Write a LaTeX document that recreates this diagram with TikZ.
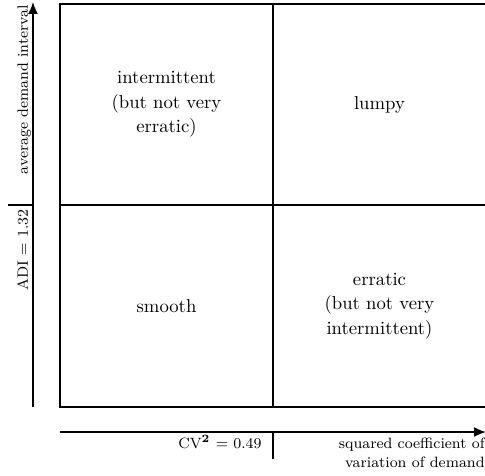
\documentclass[tikz,border=0pt]{standalone}
\usetikzlibrary{arrows.meta}
\begin{document}
\begin{tikzpicture}[x=0.535pt,y=-0.535pt,
  gridline/.style={line width=1pt},
  axis/.style={line width=1pt,-{Latex[length=6.4pt,width=5.4pt]}},
  cell/.style={align=center,inner sep=0pt,font=\fontsize{10}{13.2}\selectfont},
  lbl/.style={inner sep=0pt,font=\fontsize{8}{10.4}\selectfont}]
\useasboundingbox (0,0) rectangle (485,475);
% classification grid
\coordinate (nw) at (60,4);
\coordinate (se) at (488,407);
\coordinate (topmid) at (273,4);
\coordinate (botmid) at (273,407);
\coordinate (leftmid) at (60,205);
\coordinate (rightmid) at (488,205);
\draw[gridline] (nw) rectangle (se);
\draw[gridline] (topmid) -- (botmid);
\draw[gridline] (leftmid) -- (rightmid);
% quadrant labels
\node[cell] (intermittent) at (166.5,104.5) {intermittent\\(but not very\\erratic)};
\node[cell] (lumpy) at (379.5,104.5) {lumpy};
\node[cell] (smooth) at (166.5,306) {smooth};
\node[cell] (erratic) at (379.5,306) {erratic\\(but not very\\intermittent)};
% vertical axis: ADI
\coordinate (yfoot) at (33,407);
\coordinate (ytip) at (33,2);
\coordinate (ytick) at (33,205);
\coordinate (ytickend) at (8,205);
\draw[axis] (yfoot) -- (ytip);
\draw[gridline] (ytick) -- (ytickend);
\node[lbl,rotate=90,anchor=base east] (yname) at (28,5) {average demand interval};
\node[lbl,rotate=90,anchor=base east] (ycut) at (28,209) {ADI = 1.32};
% horizontal axis: CV^2
\coordinate (xfoot) at (60,432);
\coordinate (xtip) at (486,432);
\coordinate (xtick) at (273,432);
\coordinate (xtickend) at (273,459);
\draw[axis] (xfoot) -- (xtip);
\draw[gridline] (xtick) -- (xtickend);
\node[lbl,anchor=base east] (xcut) at (262,448) {CV$^{\mathbf{2}}$ = 0.49};
\node[lbl,align=right,anchor=north east] (xname) at (485,437.5) {squared coefficient of\\variation of demand};
\end{tikzpicture}
\end{document}
